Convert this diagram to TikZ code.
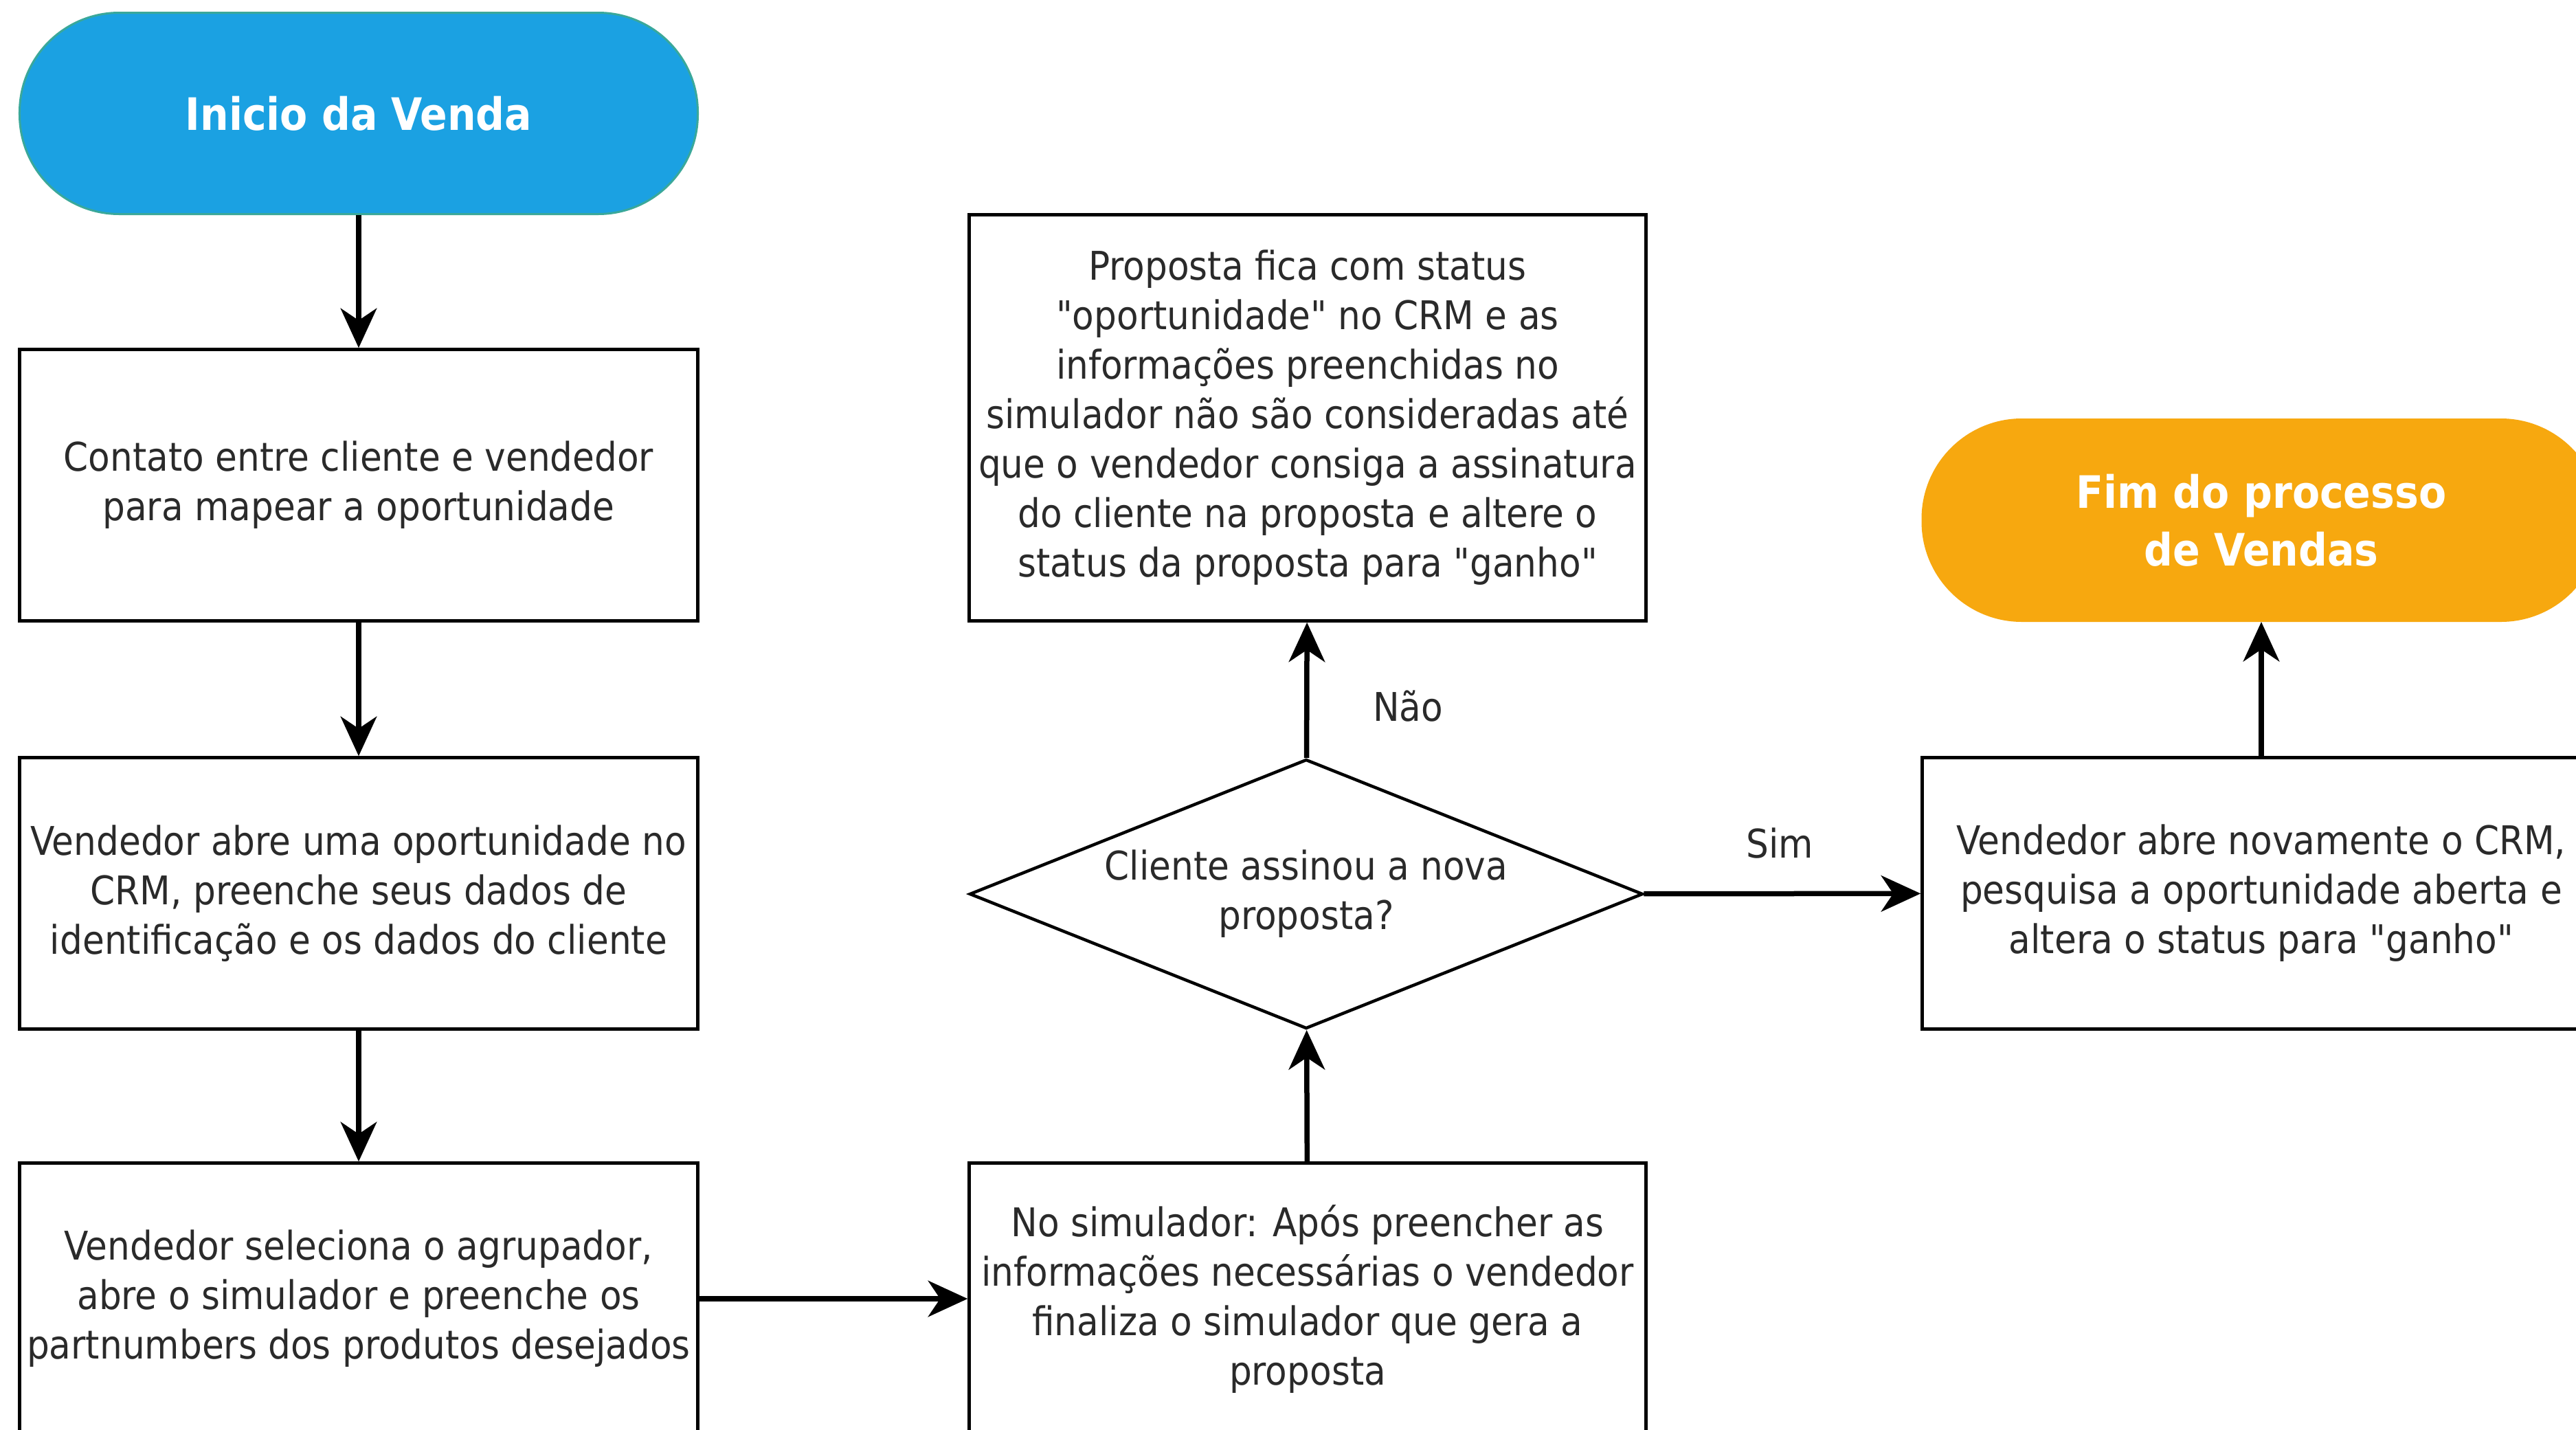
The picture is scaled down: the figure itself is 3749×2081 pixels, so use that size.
\documentclass[tikz,border=0pt]{standalone}
\usepackage{fontspec}
\setmainfont{DejaVu Sans Condensed}[Ligatures=TeXOff]
\usetikzlibrary{arrows.meta,shapes.geometric}
\definecolor{startblue}{HTML}{1BA1E2}
\definecolor{startedge}{HTML}{3AA89A}
\definecolor{endorange}{HTML}{F7A80F}
\definecolor{txt}{HTML}{2A2A2A}
\tikzset{
  procbox/.style={draw=black, line width=0.9pt, fill=white, text=txt, align=center,
    minimum width=197.4pt, minimum height=79pt, inner sep=0pt,
    font=\fontsize{11.5}{14.4}\selectfont},
  terminal/.style={align=center, inner sep=0pt, minimum width=197.4pt, minimum height=58.6pt,
    rounded corners=29pt, text=white, font=\bfseries\fontsize{13}{16.8}\selectfont},
  decision/.style={diamond, draw=black, line width=0.9pt, fill=white, text=txt, align=center,
    aspect=2.5, minimum width=196pt, minimum height=78.4pt, inner sep=0pt,
    font=\fontsize{11.5}{14.4}\selectfont},
  flow/.style={draw=black, line width=1.5pt, -{Stealth[length=11.5pt,width=10.5pt,inset=3.5pt]}},
  lbl/.style={text=txt, font=\fontsize{11.5}{14.4}\selectfont, inner sep=0pt}
}
\begin{document}
\begin{tikzpicture}[x=0.2pt,y=-0.2pt]
\useasboundingbox[fill=white] (0,0) rectangle (3749,2081);
% start
\node[terminal, fill=startblue, draw=startedge, line width=0.6pt] (start) at (522,165) {Inicio da Venda};
% left column
\node[procbox] (b1) at (522,706) {Contato entre cliente e vendedor\\para mapear a oportunidade};
\node[procbox] (b2) at (522,1300) {Vendedor abre uma oportunidade no\\CRM, preenche seus dados de\\identificação e os dados do cliente};
\node[procbox] (b3) at (522,1890) {Vendedor seleciona o agrupador,\\abre o simulador e preenche os\\partnumbers dos produtos desejados};
% middle column
\node[procbox, minimum width=197pt] (sim) at (1903,1890) {No simulador: Após preencher as\\informações necessárias o vendedor\\finaliza o simulador que gera a\\proposta};
\node[decision] (dec) at (1901,1301) {Cliente assinou a nova\\proposta?};
\node[procbox, minimum width=197pt, minimum height=118.2pt] (prop) at (1903,608) {Proposta fica com status\\"oportunidade" no CRM e as\\informações preenchidas no\\simulador não são consideradas até\\que o vendedor consiga a assinatura\\do cliente na proposta e altere o\\status da proposta para "ganho"};
% right column
\node[procbox] (b4) at (3291,1300) {Vendedor abre novamente o CRM,\\pesquisa a oportunidade aberta e\\altera o status para "ganho"};
\node[terminal, fill=endorange, draw=endorange, minimum height=58.8pt] (fim) at (3291,757) {Fim do processo\\de Vendas};
% connectors
\draw[flow] (start) -- (b1);
\draw[flow] (b1) -- (b2);
\draw[flow] (b2) -- (b3);
\draw[flow] (b3) -- (sim);
\draw[flow] (sim) -- (dec);
\draw[flow] (dec) -- (prop);
\draw[flow] (dec) -- (b4);
\draw[flow] (b4) -- (fim);
% labels
\node[lbl] (nao) at (2049,1028) {Não};
\node[lbl] (simlbl) at (2590,1227) {Sim};
\end{tikzpicture}
\end{document}
